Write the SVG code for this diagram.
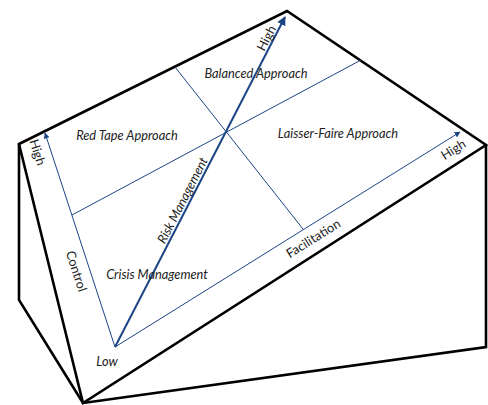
<svg xmlns="http://www.w3.org/2000/svg" width="488" height="405" viewBox="0 0 488 405">
<style>
.box{fill:none;stroke:#000;stroke-width:2.6;stroke-linejoin:miter}
.ax{stroke:#1c4585;stroke-width:1;fill:none}
.rk{stroke:#1c4585;stroke-width:2;fill:none}
.t{font-family:Lato,"Open Sans",sans-serif;font-size:12.8px;fill:#222;text-anchor:middle;dominant-baseline:central}
.i{font-style:italic}
</style>
<defs>
<marker id="ah" viewBox="0 0 10 10" refX="9" refY="5" markerWidth="6" markerHeight="6" markerUnits="userSpaceOnUse" orient="auto">
<path d="M0,0 L10,5 L0,10 z" fill="#1c4585"/>
</marker>
<marker id="ah2" viewBox="0 0 10 10" refX="9" refY="5" markerWidth="9" markerHeight="9" markerUnits="userSpaceOnUse" orient="auto">
<path d="M0,0 L10,5 L0,10 z" fill="#1c4585"/>
</marker>
</defs>
<g id="block">
<path class="box" d="M19,144 L287,11 L486,145 L83,403 Z"/>
<path class="box" d="M19,144 L19,300 L83,403"/>
<path class="box" d="M486,145 L486,347 L83,403"/>
</g>
<g id="connectors">
<line class="ax" x1="115" y1="347" x2="45" y2="133" marker-end="url(#ah)"/>
<line class="ax" x1="115" y1="347" x2="460" y2="132" marker-end="url(#ah)"/>
<line class="rk" x1="115" y1="347" x2="285" y2="17" marker-end="url(#ah2)"/>
<line class="ax" x1="72" y1="215" x2="361" y2="60"/>
<line class="ax" x1="175" y1="67" x2="303" y2="229"/>
</g>
<g id="labels">
<text class="t i" x="256" y="73">Balanced Approach</text>
<text class="t i" x="127" y="135">Red Tape Approach</text>
<text class="t i" x="338" y="133">Laisser-Faire Approach</text>
<text class="t i" x="157" y="274">Crisis Management</text>
<text class="t i" x="107" y="361">Low</text>
<text class="t" transform="translate(77,271) rotate(72)">Control</text>
<text class="t" transform="translate(38,152) rotate(72)">High</text>
<text class="t i" transform="translate(182,200) rotate(-62.7)">Risk Management</text>
<text class="t" transform="translate(266,38) rotate(-62.7)">High</text>
<text class="t" transform="translate(313,238) rotate(-32)">Facilitation</text>
<text class="t" transform="translate(453,149) rotate(-32)">High</text>
</g>
</svg>
